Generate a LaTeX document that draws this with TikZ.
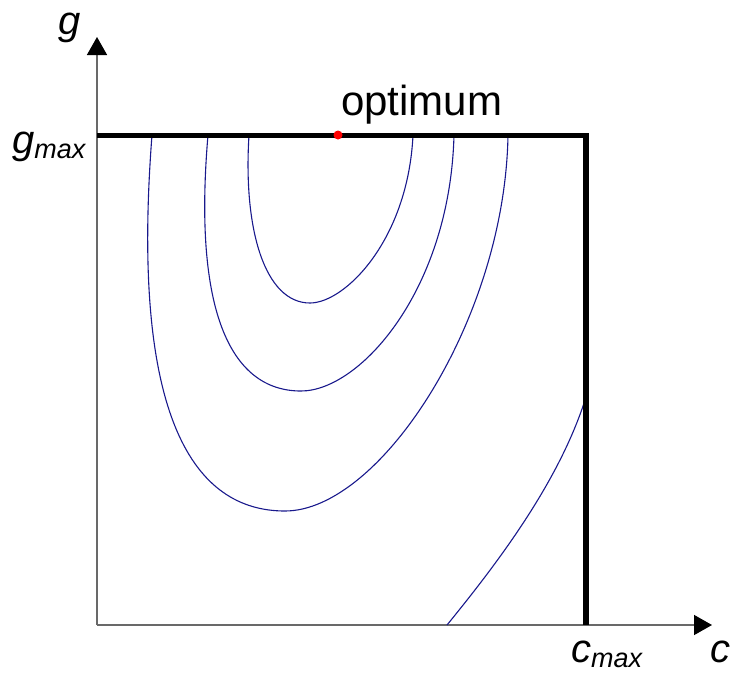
\documentclass[tikz,border=0pt]{standalone}
\usepackage{fontspec}
\setmainfont{Liberation Sans}
\usetikzlibrary{arrows.meta}

\definecolor{contourblue}{RGB}{25,25,140}
\definecolor{axisgray}{RGB}{105,105,105}
\newcommand{\lowidx}[1]{\raisebox{-5pt}{\fontsize{27}{30}\selectfont #1}}

\begin{document}
\begin{tikzpicture}[x=1pt,y=-1pt,
    axis/.style={draw=axisgray, line width=1.5pt,
        -{Triangle[length=18pt,width=20pt,color=black]}},
    bound/.style={draw=black, line width=5.5pt},
    contour/.style={draw=contourblue, line width=1.1pt},
    lbl/.style={anchor=base west, inner sep=0pt,
        font=\fontsize{40}{44}\selectfont\itshape},
    optdot/.style={circle, fill=red, inner sep=0pt, minimum size=9pt}]

\useasboundingbox (0,0) rectangle (731,673);

% Axes
\coordinate (O) at (97,625);
\coordinate (ytip) at (97,37);
\coordinate (xtip) at (712,625);
\draw[axis] (O) -- (ytip);
\draw[axis] (O) -- (xtip);

% Contours
\draw[contour] (249,135) .. controls (243,230) and (265,303) .. (310,303)
    .. controls (345,303) and (408,240) .. (413,135);
\draw[contour] (208,135) .. controls (193,310) and (230,391) .. (301,391)
    .. controls (360,391) and (450,290) .. (454,135);
\draw[contour] (152,135) .. controls (130,420) and (195,511) .. (285,511)
    .. controls (380,511) and (505,320) .. (508,135);
\draw[contour] (447,625) .. controls (500,560) and (560,480) .. (586,397);

% Bounds
\coordinate (gmax) at (97,135.5);
\coordinate (corner) at (586,135.5);
\coordinate (cmax) at (586,625);
\draw[bound] (gmax) -- (corner) -- (cmax);

% Optimum
\node[optdot] (opt) at (338,135) {};
\node[anchor=base west, inner sep=0pt, font=\fontsize{42}{46}\selectfont]
    (optlab) at (341,115.5) {optimum};

% Labels
\node[lbl] (glab) at (58,34) {g};
\node[lbl] (gmaxlab) at (12,153) {g\lowidx{max}};
\node[lbl] (clab) at (710,662) {c};
\node[lbl] (cmaxlab) at (571,662) {c\lowidx{max}};

\end{tikzpicture}
\end{document}
